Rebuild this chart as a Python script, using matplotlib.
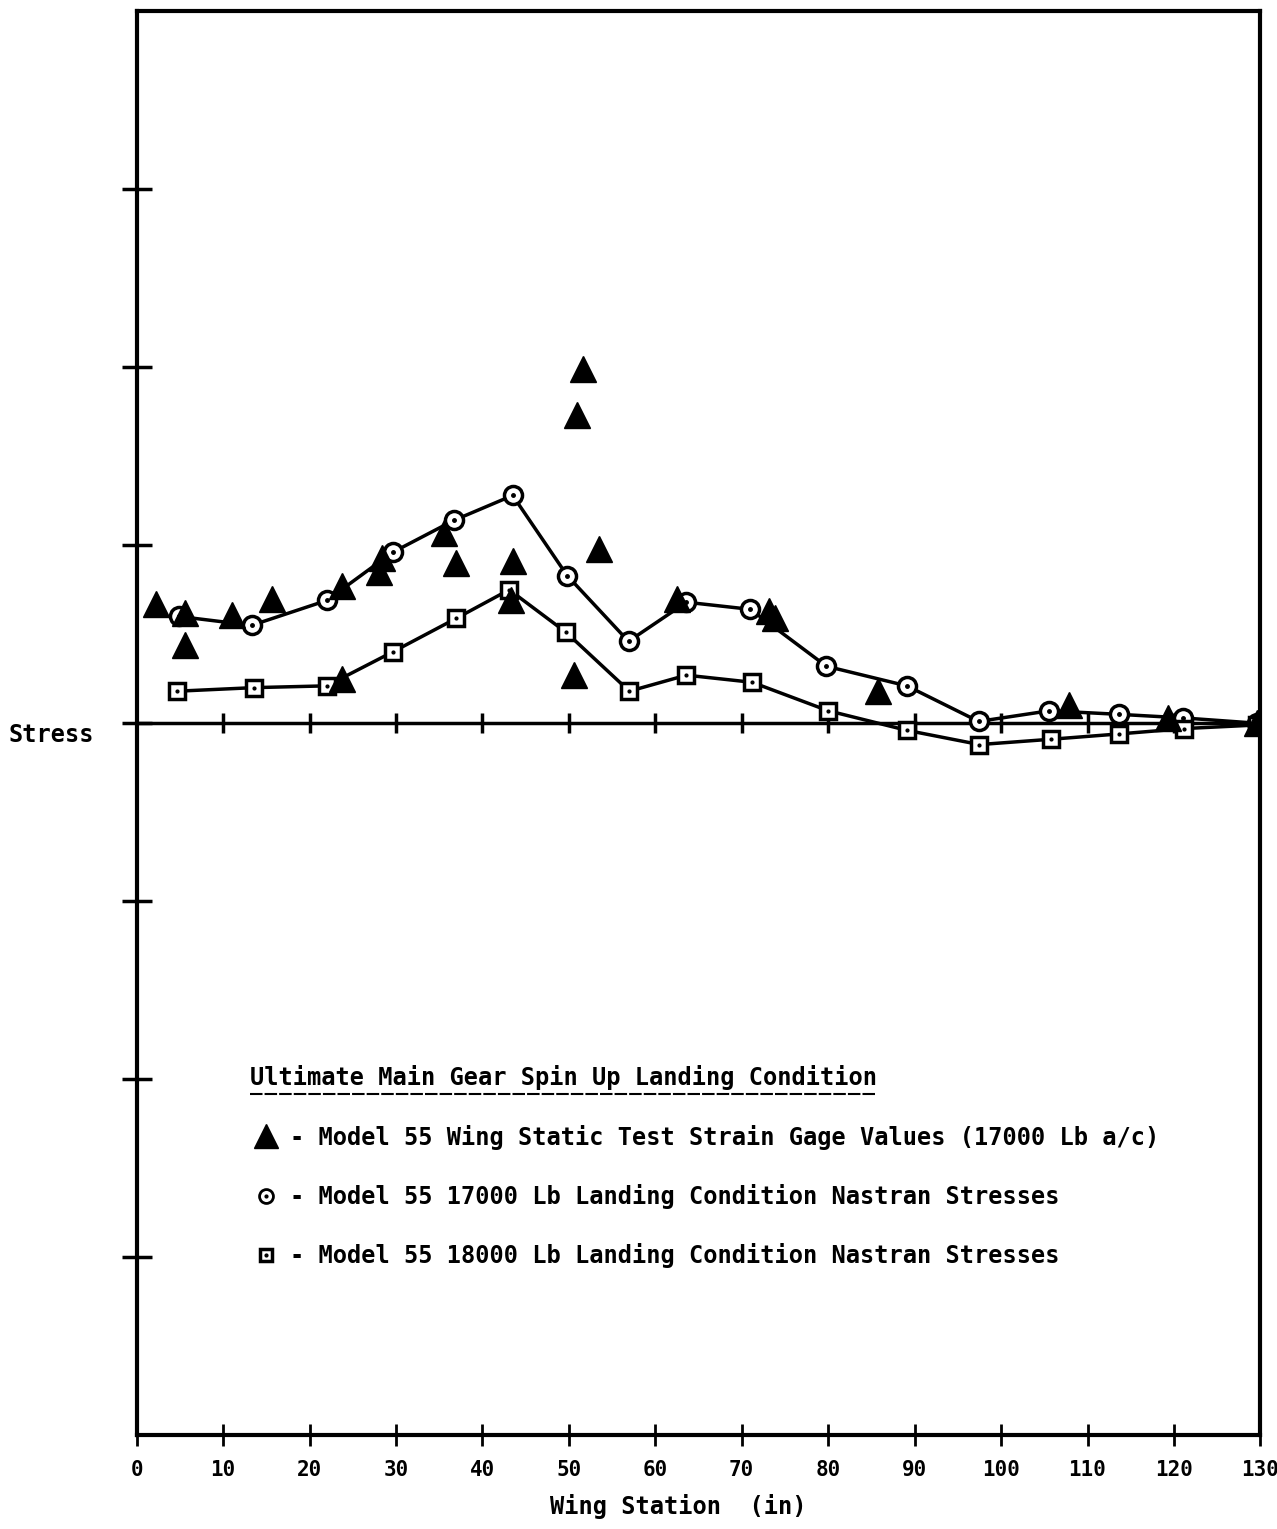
import numpy as np
import matplotlib.pyplot as plt
from matplotlib.lines import Line2D

plt.rcParams['font.family'] = ['DejaVu Sans Mono', 'DejaVu Sans']
plt.rcParams['font.weight'] = 'bold'

# wing station (in) vs stress (arbitrary units, one unit per y tick)
# 17000 Lb landing condition, Nastran
x_17k = [4.9, 13.3, 22.0, 29.6, 36.7, 43.5, 49.8, 56.9, 63.6, 71.0, 79.8, 89.1, 97.4, 105.6, 113.6, 121.0, 129.6]
y_17k = [0.60, 0.55, 0.69, 0.96, 1.14, 1.28, 0.83, 0.46, 0.68, 0.64, 0.32, 0.21, 0.01, 0.07, 0.05, 0.03, 0.0]

# 18000 Lb landing condition, Nastran
x_18k = [4.7, 13.6, 22.0, 29.6, 37.0, 43.1, 49.7, 57.0, 63.6, 71.2, 80.0, 89.1, 97.5, 105.8, 113.7, 121.2, 129.6]
y_18k = [0.18, 0.20, 0.21, 0.40, 0.59, 0.75, 0.51, 0.18, 0.27, 0.23, 0.07, -0.04, -0.12, -0.09, -0.06, -0.03, -0.01]

# static test strain gage values (17000 Lb a/c)
x_test = [2.2, 5.6, 5.6, 11.0, 15.7, 23.8, 23.8, 28.0, 28.4, 35.6, 37.0, 43.5, 43.3,
          51.6, 50.9, 53.5, 50.6, 62.5, 73.2, 73.8, 85.8, 107.9, 119.3, 129.6]
y_test = [0.67, 0.62, 0.44, 0.61, 0.70, 0.77, 0.25, 0.85, 0.93, 1.07, 0.90, 0.91, 0.69,
          1.99, 1.73, 0.98, 0.27, 0.70, 0.63, 0.59, 0.18, 0.10, 0.03, 0.0]

x_ticks = np.arange(0, 131, 10)
y_ticks = [-3, -2, -1, 0, 1, 2, 3]
zero_ticks = np.arange(10, 130, 10)

title = 'Ultimate Main Gear Spin Up Landing Condition'
labels = ['- Model 55 Wing Static Test Strain Gage Values (17000 Lb a/c)',
          '- Model 55 17000 Lb Landing Condition Nastran Stresses',
          '- Model 55 18000 Lb Landing Condition Nastran Stresses']

fig = plt.figure(figsize=(12.77, 15.29), dpi=100)
ax = fig.add_axes([0.107, 0.0615, 0.88, 0.931])

ax.axhline(0, color='k', lw=2.5, zorder=2)
ax.plot(zero_ticks, np.zeros(len(zero_ticks)), ls='none', marker='|', ms=14, mew=2.5, color='k', zorder=2)

ax.plot(x_17k, y_17k, color='k', lw=2.5, marker='o', ms=13, mfc='white', mec='k', mew=2.5, zorder=3)
ax.plot(x_17k, y_17k, ls='none', marker='.', ms=5, color='k', zorder=4)
ax.plot(x_18k, y_18k, color='k', lw=2.5, marker='s', ms=11, mfc='white', mec='k', mew=2.5, zorder=3)
ax.plot(x_18k, y_18k, ls='none', marker='.', ms=4, color='k', zorder=4)
ax.plot(x_test, y_test, ls='none', marker='^', ms=19, color='k', zorder=5)

ax.set_xlim(0, 130)
ax.set_ylim(-4, 4)
ax.set_xticks(x_ticks)
ax.set_yticks(y_ticks)
ax.set_yticklabels([])
ax.tick_params(axis='x', direction='inout', length=16, width=2, labelsize=15, pad=10)
ax.tick_params(axis='y', direction='inout', length=22, width=2.5)
for s in ax.spines.values():
    s.set_linewidth(3)

ax.set_xlabel('Wing Station  (in)', fontsize=17, fontweight='bold', va='center')
ax.xaxis.set_label_coords(0.482, -0.0506)
ax.set_ylabel('Stress', fontsize=17, fontweight='bold', rotation=0, va='center', ha='center')
ax.yaxis.set_label_coords(-0.076, 0.4916)

# legend block
t = ax.text(0.1006, 0.2514, title, transform=ax.transAxes, fontsize=17,
            fontweight='bold', ha='left', va='center')
fig.canvas.draw()
bb = t.get_window_extent().transformed(ax.transAxes.inverted())
ax.add_line(Line2D([bb.x0, bb.x1], [bb.y0 - 0.003, bb.y0 - 0.003], transform=ax.transAxes,
                   color='k', lw=1.5, ls=(0, (6, 1))))

dot = Line2D([], [], ls='none', marker='.', ms=4, color='k')
handles = [Line2D([], [], ls='none', marker='^', ms=17, color='k'),
           (Line2D([], [], ls='none', marker='o', ms=10, mfc='white', mec='k', mew=2), dot),
           (Line2D([], [], ls='none', marker='s', ms=9, mfc='white', mec='k', mew=2.5), dot)]
leg = ax.legend(handles, labels, loc='upper left', bbox_to_anchor=(0.105, 0.218),
                frameon=False, fontsize=17, labelspacing=1.45, handlelength=1.0,
                handletextpad=0.5, borderpad=0, borderaxespad=0)

fig.savefig('out.png', dpi=100)
